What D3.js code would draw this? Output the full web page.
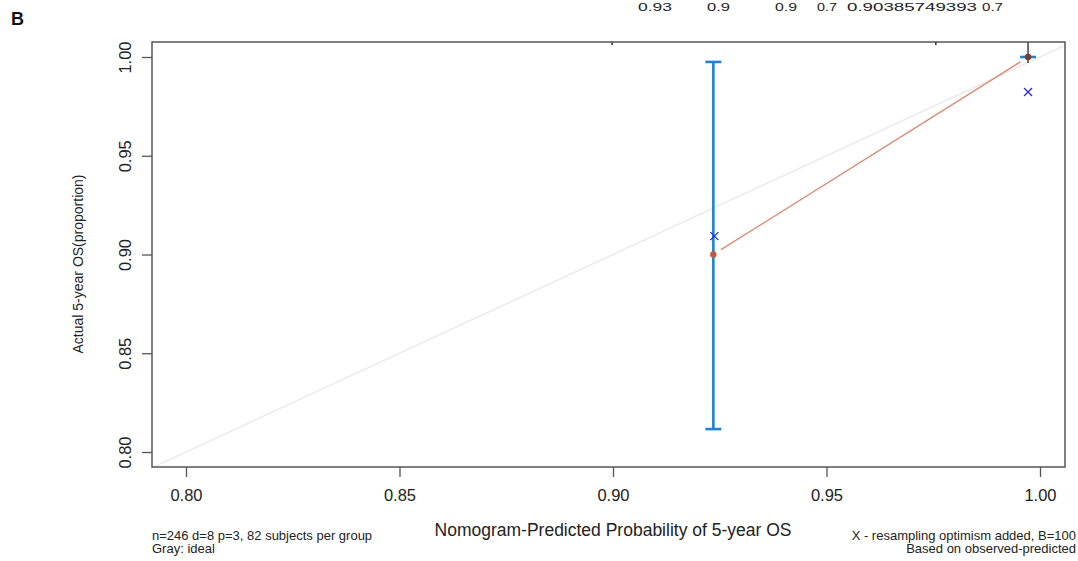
<!DOCTYPE html>
<html><head><meta charset="utf-8">
<script src="https://cdn.jsdelivr.net/npm/d3@7"></script>
<style>body{margin:0;background:#fff}svg{display:block}text{font-family:"Liberation Sans",Arial,sans-serif}</style>
</head><body>
<svg id="c" width="1078" height="561"></svg>
<script>
// Data
const xTicks = [0.80, 0.85, 0.90, 0.95, 1.00];
const yTicks = [0.80, 0.85, 0.90, 0.95, 1.00];
const predicted = [0.9235, 0.9972];
const observed = [0.900, 1.000];
const ciLow = [0.8116, 1.000];
const ciHigh = [0.9975, 1.000];
const corrected = [0.9093, 0.9823];
const rugTicks = [0.8998, 0.9756];
const footLeft = ["n=246 d=8 p=3, 82 subjects per group", "Gray: ideal"];
const footRight = ["X - resampling optimism added, B=100", "Based on observed-predicted"];
const topLabels = ["0.93", "0.9", "0.9", "0.7", "0.90385749393", "0.7"];

const svg = d3.select("#c");
const L = 152, R = 1065, T = 42, B = 467;
const x = d3.scaleLinear().domain([0.80, 1.00]).range([186, 1040]);
const y = d3.scaleLinear().domain([0.80, 1.00]).range([452, 57]);

svg.append("clipPath").attr("id","clip").append("rect").attr("x",L).attr("y",T).attr("width",R-L).attr("height",B-T);
const g = svg.append("g").attr("clip-path","url(#clip)");

// ideal line
const x0 = x.invert(L), x1 = x.invert(R);
g.append("line").attr("x1",x(x0)).attr("y1",y(x0)).attr("x2",x(x1)).attr("y2",y(x1))
 .attr("stroke","#ebebeb").attr("stroke-width",1.5);

// red line with gaps (type b)
{
  const ax = x(predicted[0]), ay = y(observed[0]), bx = x(predicted[1]), by = y(observed[1]);
  const len = Math.hypot(bx-ax, by-ay), ux=(bx-ax)/len, uy=(by-ay)/len, gap=9;
  g.append("line").attr("x1",ax+ux*gap).attr("y1",ay+uy*gap).attr("x2",bx-ux*gap).attr("y2",by-uy*gap)
   .attr("stroke","#dc8a75").attr("stroke-width",1.4);
}

// error bars
predicted.forEach((p,i)=>{
  const cx = x(p);
  if (i===0) {
    g.append("line").attr("x1",cx).attr("x2",cx).attr("y1",y(ciHigh[i])).attr("y2",y(ciLow[i]))
      .attr("stroke","#1f82d6").attr("stroke-width",2.6);
    [ciHigh[i], ciLow[i]].forEach(v=>g.append("line").attr("x1",cx-8).attr("x2",cx+8).attr("y1",y(v)).attr("y2",y(v))
      .attr("stroke","#1f82d6").attr("stroke-width",2.6));
  } else {
    g.append("line").attr("x1",cx).attr("x2",cx).attr("y1",T).attr("y2",y(ciLow[i])+6)
      .attr("stroke","#333").attr("stroke-width",1.4);
    g.append("line").attr("x1",cx-8).attr("x2",cx+8).attr("y1",y(ciLow[i])).attr("y2",y(ciLow[i]))
      .attr("stroke","#1f82d6").attr("stroke-width",2.6);
  }
  g.append("circle").attr("cx",cx).attr("cy",y(observed[i])).attr("r",3.2)
    .attr("fill", i===0 ? "#c8563e" : "#7a3a2e");
});

// corrected X marks
corrected.forEach((v,i)=>{
  const cx = x(predicted[i]) + (i===0?1:0), cy = y(v), s=4;
  g.append("path").attr("d",`M${cx-s},${cy-s}L${cx+s},${cy+s}M${cx-s},${cy+s}L${cx+s},${cy-s}`)
    .attr("stroke","#2a2ae6").attr("stroke-width",1.3).attr("fill","none");
});

// rug ticks at top
rugTicks.forEach(v=>svg.append("line").attr("x1",x(v)).attr("x2",x(v)).attr("y1",T).attr("y2",T+3)
  .attr("stroke","#333").attr("stroke-width",1.6));

// box
svg.append("rect").attr("x",L).attr("y",T).attr("width",R-L).attr("height",B-T)
  .attr("fill","none").attr("stroke","#555").attr("stroke-width",1.5);

// axes
const xa = svg.append("g").attr("transform",`translate(0,${B})`)
  .call(d3.axisBottom(x).tickValues(xTicks).tickFormat(d3.format(".2f")).tickSize(10).tickPadding(12));
const ya = svg.append("g").attr("transform",`translate(${L},0)`)
  .call(d3.axisLeft(y).tickValues(yTicks).tickFormat(d3.format(".2f")).tickSize(10).tickPadding(6));
[xa,ya].forEach(a=>{a.select(".domain").remove();a.selectAll(".tick line").attr("stroke","#555").attr("stroke-width",1.3);
  a.selectAll("text").attr("font-size",16.5).attr("fill","#222").style("font-family",'"Liberation Sans",Arial,sans-serif');});
ya.selectAll(".tick text").attr("transform","rotate(-90)").attr("x",0).attr("y",-27).attr("dy","0.35em").attr("text-anchor","middle");

// titles
svg.append("text").attr("x",613).attr("y",536).attr("text-anchor","middle").attr("font-size",17.5).attr("fill","#222")
  .text("Nomogram-Predicted Probability of 5-year OS");
svg.append("text").attr("transform","translate(83,264) rotate(-90)").attr("text-anchor","middle").attr("font-size",14).attr("fill","#222")
  .text("Actual 5-year OS(proportion)");
svg.append("text").attr("x",11).attr("y",25).attr("font-size",18).attr("font-weight","bold").attr("fill","#111").text("B");

// footnotes
footLeft.forEach((t,i)=>svg.append("text").attr("x",152).attr("y",540+i*13).attr("font-size",13).attr("fill","#222").text(t));
footRight.forEach((t,i)=>svg.append("text").attr("x",1076).attr("y",540+i*13).attr("text-anchor","end").attr("font-size",13).attr("fill","#222").text(t));

// row of text at top edge
const topX = [638, 707, 775, 817, 847, 982];
const topW = [34, 23, 22, 20, 130, 21];
topLabels.forEach((t,i)=>svg.append("text").attr("x",topX[i]).attr("y",11).attr("font-size",10.5)
  .attr("textLength",topW[i]).attr("lengthAdjust","spacingAndGlyphs").attr("fill","#222").text(t));
</script>
</body></html>
